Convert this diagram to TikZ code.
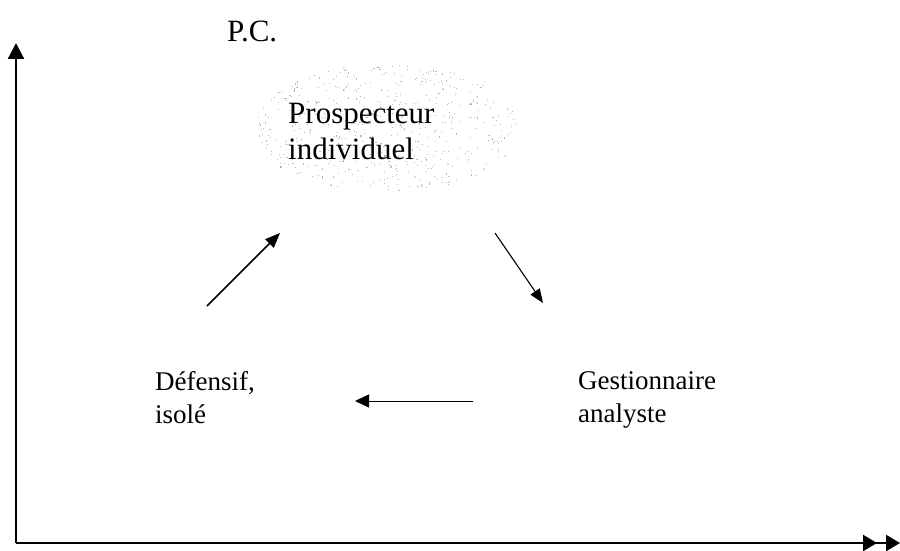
\documentclass[tikz,border=0pt]{standalone}
\usepackage{fontspec}
\setmainfont{Liberation Serif}
\usetikzlibrary{arrows.meta}

\begin{document}
\begin{tikzpicture}[x=1pt, y=-1pt,
  lbl/.style={font=\fontsize{27}{33}\selectfont, align=left, inner sep=0pt, anchor=base west},
  big/.style={font=\fontsize{31}{36}\selectfont},
  axis/.style={line width=2.2pt},
  flow/.style={line width=1.5pt, -{Triangle[length=15pt,width=12pt]}}]
\useasboundingbox (0,0) rectangle (900,551);

% stippled cloud behind the top label
\pgfmathsetseed{17}
\foreach \i in {1,...,520}{
  \pgfmathsetmacro\ang{360*rnd}
  \pgfmathsetmacro\rad{sqrt(rnd)}
  \fill[gray!55] ({386+132*\rad*cos(\ang)},{128+64*\rad*sin(\ang)}) rectangle ++(1.1,1.1);
}

% axes
\coordinate (O) at (16,543);
\coordinate (ytop) at (16,43);
\coordinate (xend) at (900,543);
\draw[axis, -{Triangle[length=16pt,width=16pt]}] (O) -- (ytop);
\draw[axis, -{Triangle[length=14pt,width=16pt,sep=9pt] Triangle[length=14pt,width=16pt]}] (O) -- (xend);

% labels (anchored on the baseline of their last line)
\node[lbl, big] (pc) at (227,42) {P.C.};
\node[lbl, big] (prosp) at (288,159) {Prospecteur\\individuel};
\node[lbl] (def) at (155,423) {Défensif,\\isolé};
\node[lbl] (gest) at (578,422) {Gestionnaire\\analyste};

% cycle arrows
\coordinate (a1s) at (207,306);
\coordinate (a1e) at (280,233);
\coordinate (a2s) at (495,233);
\coordinate (a2e) at (543,303);
\coordinate (a3s) at (473,401);
\coordinate (a3e) at (355,401);
\draw[flow] (a1s) -- (a1e);
\draw[flow, line width=1.1pt, -{Triangle[length=14pt,width=11pt]}] (a2s) -- (a2e);
\draw[flow, line width=1pt, -{Triangle[length=14pt,width=13pt]}] (a3s) -- (a3e);
\end{tikzpicture}
\end{document}
